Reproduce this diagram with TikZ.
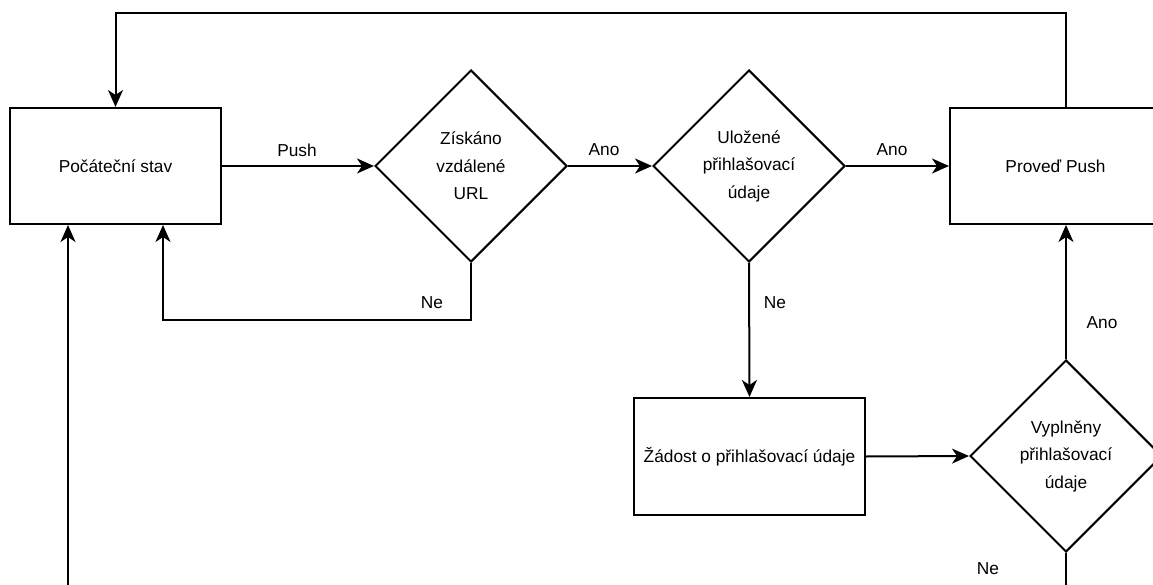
\documentclass[tikz,border=0pt]{standalone}
\usepackage{fontspec}
\setmainfont{Liberation Sans}
\usetikzlibrary{shapes.geometric,arrows.meta}
\tikzset{
  box/.style={draw, line width=2pt, rectangle, inner sep=0pt, align=center},
  dia/.style={draw, line width=2pt, diamond, shape aspect=1, inner sep=0pt,
              minimum width=192pt, minimum height=192pt, align=center},
  arr/.style={line width=2pt, -{Stealth[length=17pt,width=15pt,inset=5pt]}},
  ln/.style={line width=2pt},
  lbl/.style={inner sep=0pt},
}
\begin{document}
\begin{tikzpicture}[x=1pt,y=-1pt,
  every node/.append style={font=\fontsize{17.3}{27.5}\selectfont}]
\clip (0,0) rectangle (1153,585);
\fill[white] (0,0) rectangle (1153,585);
% nodes
\node[box, minimum width=211pt, minimum height=116pt] (b1) at (115.5,166) {Počáteční stav};
\node[dia] (d1) at (471,166) {Získáno\\vzdálené\\URL};
\node[dia] (d2) at (749,166) {Uložené\\přihlašovací\\údaje};
\node[box, minimum width=211pt, minimum height=116pt] (bp) at (1055.5,166) {Proveď Push};
\node[box, minimum width=231pt, minimum height=117pt] (bz) at (749.5,456.5) {Žádost o přihlašovací údaje};
\node[dia] (d3) at (1066,456) {Vyplněny\\přihlašovací\\údaje};
% coordinates
\coordinate (ctop) at (115.5,13);
\coordinate (cne) at (163,320);
\coordinate (cleft) at (68,590);
\coordinate (cbot) at (1066,590);
% connectors
\draw[arr] (b1.east) -- (d1.west);
\draw[arr] (d1.east) -- (d2.west);
\draw[arr] (d2.east) -- (bp.west);
\draw[arr] (d1.south) |- (cne) -- (cne |- b1.south);
\draw[arr] (d2.south) -- (bz.north);
\draw[arr] (bz.east) -- (d3.west);
\draw[arr] (d3.north) -- (d3.north |- bp.south);
\draw[arr] (d3.north |- bp.north) |- (ctop) -- (b1.north);
\draw[arr] (cleft) -- (cleft |- b1.south);
\draw[ln] (d3.south) -- (cbot);
% labels
\node[lbl] (lpush) at (297,150) {Push};
\node[lbl] (lano1) at (604,150) {Ano};
\node[lbl] (lano2) at (892,150) {Ano};
\node[lbl] (lne1) at (432,303) {Ne};
\node[lbl] (lne2) at (775,303) {Ne};
\node[lbl] (lano3) at (1102,323) {Ano};
\node[lbl] (lne3) at (988,569) {Ne};
\end{tikzpicture}
\end{document}
